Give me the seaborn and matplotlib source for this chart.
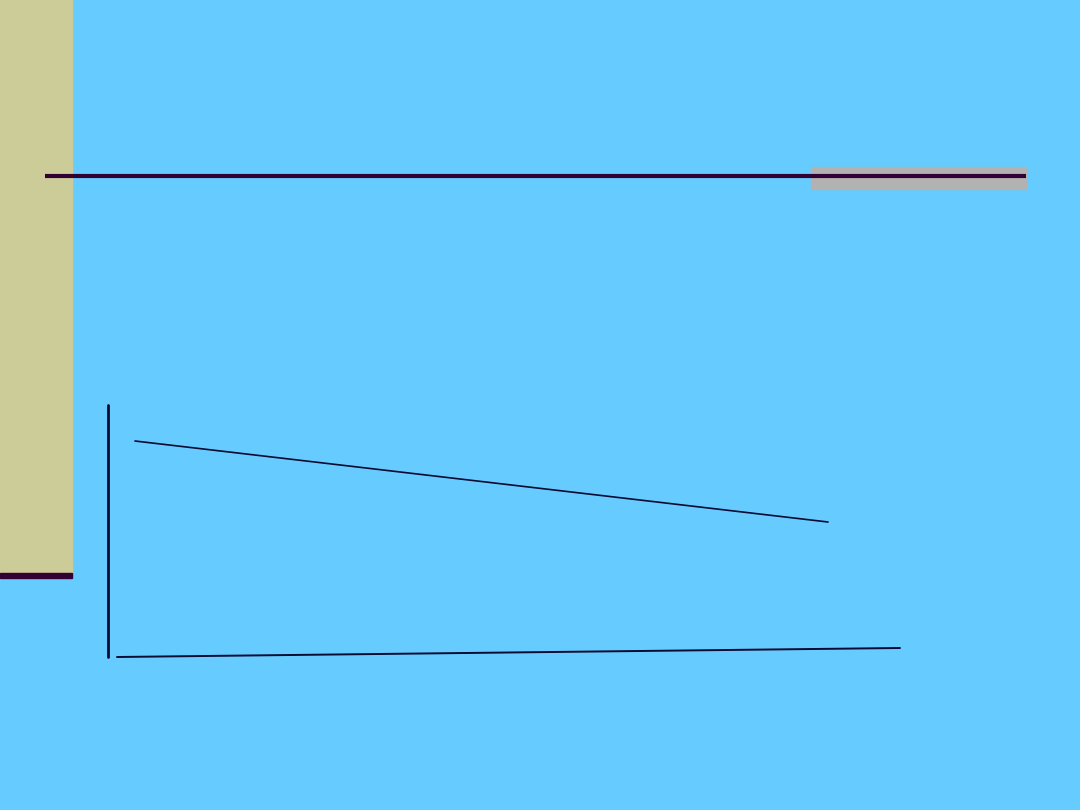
import matplotlib
matplotlib.use("Agg")
import matplotlib.pyplot as plt
import seaborn as sns
from matplotlib.patches import Rectangle

# slide canvas, in pixels (y grows downward)
sloped_x = [135, 828]
sloped_y = [441, 522]
base_x = [117, 900]
base_y = [657, 648]
axis_x = [108, 108]
axis_y = [405, 657]

BG = "#66CCFF"
TAN = "#CCCC99"
DARK = "#330033"
GREY = "#B2B2B2"
INK = "#0A0A33"

sns.set_theme(style="white")
plt.rcParams['font.family'] = ['DejaVu Sans']

fig = plt.figure(figsize=(10.8, 8.1), dpi=100)
fig.patch.set_facecolor(BG)
ax = fig.add_axes([0, 0, 1, 1])
ax.set_facecolor(BG)
ax.set_xlim(0, 1080)
ax.set_ylim(810, 0)
ax.axis("off")

# left side panel with dark foot
ax.add_patch(Rectangle((0, 0), 72, 573, color=TAN, zorder=1))
ax.add_patch(Rectangle((0, 573), 72, 5, color=DARK, zorder=2))

# title rule with grey tab
ax.add_patch(Rectangle((811, 167), 215, 22, color=GREY, zorder=1))
ax.plot([45, 1026], [176, 176], color=DARK, lw=3, solid_capstyle="butt", zorder=3)

# diagram lines
sns.lineplot(x=axis_x, y=axis_y, ax=ax, color=INK, lw=2, sort=False, estimator=None)
sns.lineplot(x=sloped_x, y=sloped_y, ax=ax, color=INK, lw=1.2, sort=False, estimator=None)
sns.lineplot(x=base_x, y=base_y, ax=ax, color=INK, lw=1.4, sort=False, estimator=None)

fig.savefig("out.png", dpi=100, facecolor=BG)
